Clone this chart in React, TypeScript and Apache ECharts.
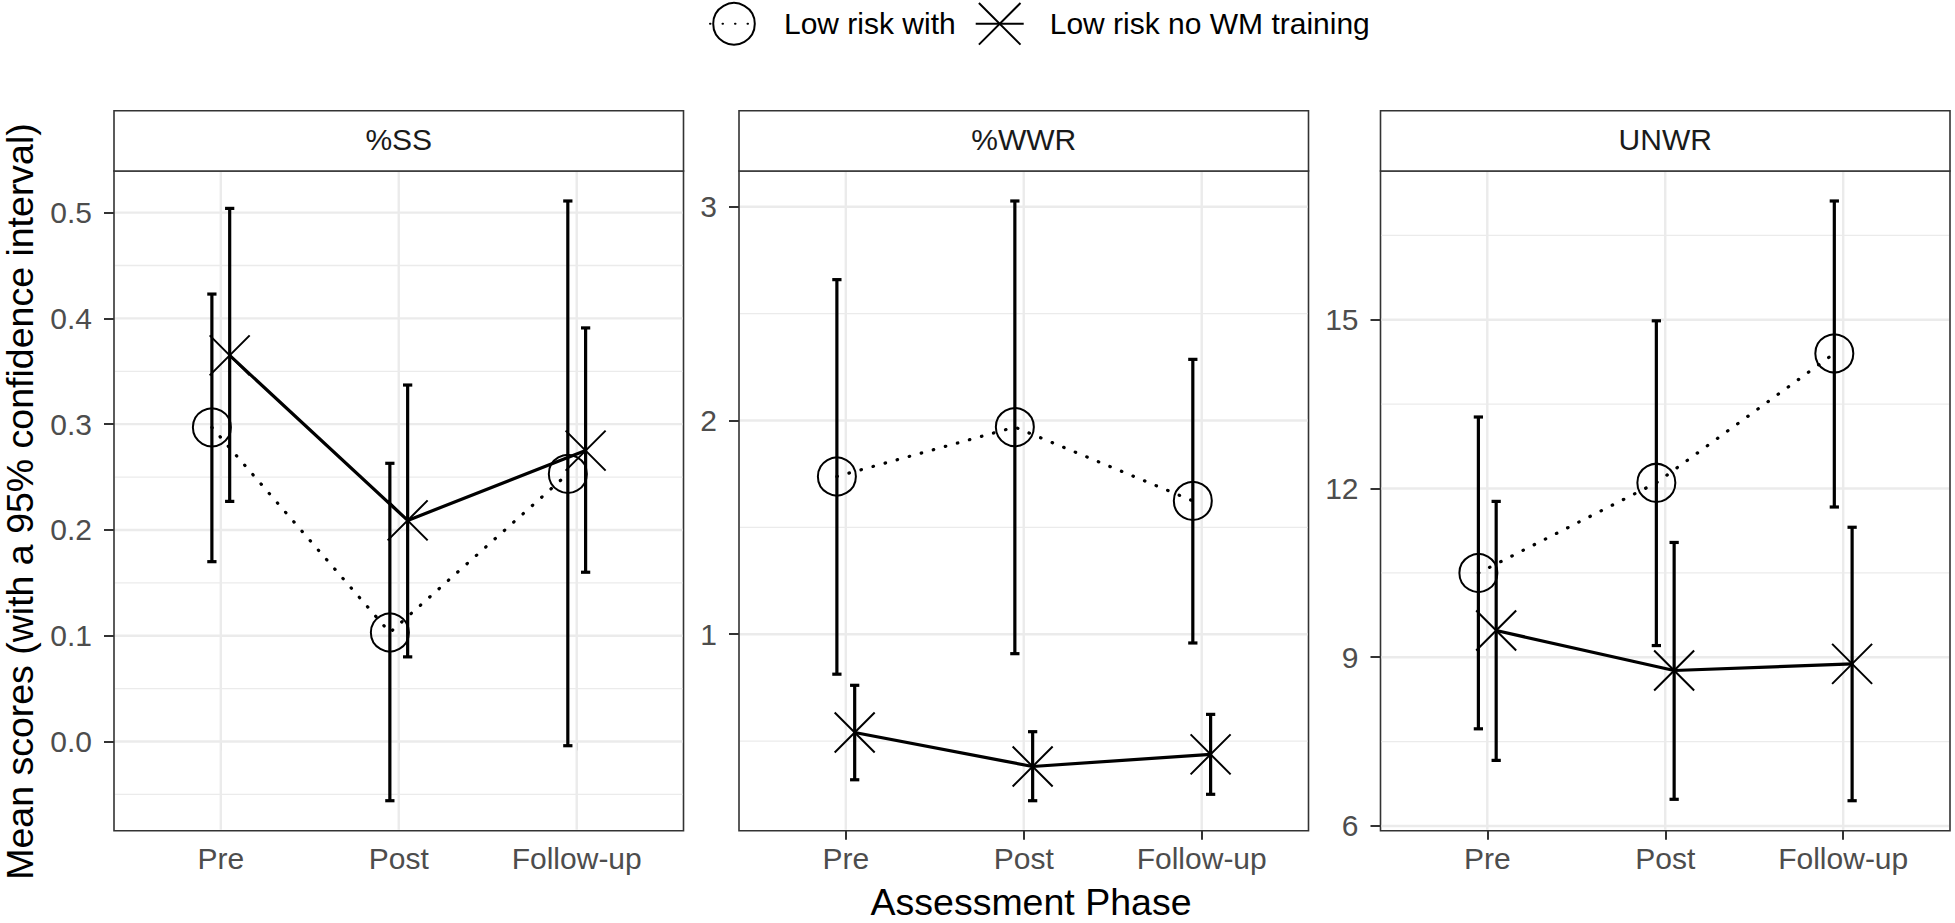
import React, { useEffect, useRef } from 'react';
import * as echarts from 'echarts';

// ---------- data ----------
const phases = ['Pre', 'Post', 'Follow-up'];
const panelTitles = ['%SS', '%WWR', 'UNWR'];
const groupNames = ['Low risk with', 'Low risk no WM training'];

// %SS
const ssWithMean = [0.297, 0.103, 0.253];
const ssWithLo = [0.170, -0.056, -0.004];
const ssWithHi = [0.423, 0.263, 0.511];
const ssNoMean = [0.365, 0.209, 0.275];
const ssNoLo = [0.227, 0.080, 0.160];
const ssNoHi = [0.504, 0.337, 0.391];

// %WWR
const wwrWithMean = [1.738, 1.969, 1.624];
const wwrWithLo = [0.813, 0.909, 0.959];
const wwrWithHi = [2.659, 3.027, 2.286];
const wwrNoMean = [0.540, 0.381, 0.438];
const wwrNoLo = [0.319, 0.221, 0.251];
const wwrNoHi = [0.761, 0.544, 0.625];

// UNWR
const unwrWithMean = [10.497, 12.10, 14.40];
const unwrWithLo = [7.727, 9.207, 11.67];
const unwrWithHi = [13.27, 14.98, 17.11];
const unwrNoMean = [9.474, 8.764, 8.881];
const unwrNoLo = [7.166, 6.474, 6.449];
const unwrNoHi = [11.77, 11.04, 11.31];

// tick labels
const ssTicks = [0, 0.1, 0.2, 0.3, 0.4, 0.5];
const ssMinor = [-0.05, 0.05, 0.15, 0.25, 0.35, 0.45];
const wwrTicks = [1, 2, 3];
const wwrMinor = [0.5, 1.5, 2.5];
const unwrTicks = [6, 9, 12, 15];
const unwrMinor = [7.5, 10.5, 13.5, 16.5];
const xTicks = [1, 2, 3];

// ---------- layout / style ----------
const FONT = '"Liberation Sans", Arial, Helvetica, sans-serif';
const GRID_LEFT = [114, 739, 1380.5];
const GRID_W = 569.5;
const GRID_TOP = 171;
const GRID_H = 659.7;
const STRIP_TOP = 110.7;
const DODGE = 0.05;
const CAP = 0.026;
const X_SYMBOL = 'path://M0,0L10,10M10,0L0,10';

const panels = [
  { title: panelTitles[0], wm: ssWithMean, wl: ssWithLo, wh: ssWithHi, nm: ssNoMean, nl: ssNoLo, nh: ssNoHi, ticks: ssTicks, minor: ssMinor, fmt: (v: number) => v.toFixed(1) },
  { title: panelTitles[1], wm: wwrWithMean, wl: wwrWithLo, wh: wwrWithHi, nm: wwrNoMean, nl: wwrNoLo, nh: wwrNoHi, ticks: wwrTicks, minor: wwrMinor, fmt: (v: number) => String(Math.round(v)) },
  { title: panelTitles[2], wm: unwrWithMean, wl: unwrWithLo, wh: unwrWithHi, nm: unwrNoMean, nl: unwrNoLo, nh: unwrNoHi, ticks: unwrTicks, minor: unwrMinor, fmt: (v: number) => String(Math.round(v)) },
].map((p) => {
  const all = [...p.wl, ...p.wh, ...p.nl, ...p.nh];
  const lo = Math.min(...all);
  const hi = Math.max(...all);
  const pad = (hi - lo) * 0.05;
  return { ...p, min: lo - pad, max: hi + pad };
});

function buildOption() {
  const grid = panels.map((_, i) => ({
    left: GRID_LEFT[i], top: GRID_TOP, width: GRID_W, height: GRID_H,
    show: true, backgroundColor: '#ffffff', borderColor: '#333333', borderWidth: 1.6,
    containLabel: false,
  }));

  const xAxis = panels.map((_, i) => ({
    type: 'value', gridIndex: i, min: 0.4, max: 3.6,
    axisLine: { show: false },
    splitLine: { show: false },
    axisTick: { show: true, length: 9, lineStyle: { color: '#333333', width: 2 }, customValues: xTicks },
    axisLabel: {
      customValues: xTicks,
      formatter: (v: number) => phases[Math.round(v) - 1] ?? '',
      margin: 13, fontSize: 30, color: '#4d4d4d', fontFamily: FONT,
    },
  }));

  const yAxis = panels.map((p, i) => ({
    type: 'value', gridIndex: i, min: p.min, max: p.max,
    axisLine: { show: false },
    splitLine: { show: false },
    axisTick: { show: true, length: 10, lineStyle: { color: '#333333', width: 2 }, customValues: p.ticks },
    axisLabel: {
      customValues: p.ticks,
      formatter: p.fmt,
      margin: 22, fontSize: 30, color: '#4d4d4d', fontFamily: FONT,
    },
  }));

  const series: any[] = [];

  panels.forEach((p, i) => {
    const ymid = (p.min + p.max) / 2;
    const xs = phases.map((_, k) => k + 1);

    // lines with markers (first so the legend uses them)
    series.push({
      type: 'line', name: groupNames[0], xAxisIndex: i, yAxisIndex: i, z: 4,
      silent: true, emphasis: { disabled: true },
      data: xs.map((x, k) => [x - DODGE, p.wm[k]]),
      symbol: 'circle', symbolSize: 38, showSymbol: true,
      itemStyle: { color: 'rgba(0,0,0,0)', borderColor: '#000000', borderWidth: 2 },
      lineStyle: { color: '#000000', width: 3.2, type: [0.5, 12], cap: 'round' },
    });
    series.push({
      type: 'line', name: groupNames[1], xAxisIndex: i, yAxisIndex: i, z: 4,
      silent: true, emphasis: { disabled: true },
      data: xs.map((x, k) => [x + DODGE, p.nm[k]]),
      symbol: X_SYMBOL, symbolSize: 40, showSymbol: true,
      itemStyle: { color: 'rgba(0,0,0,0)', borderColor: '#000000', borderWidth: 2 },
      lineStyle: { color: '#000000', width: 3.2, type: 'solid' },
    });

    // grid lines
    const gridData = [
      ...p.ticks.map((v) => [2, v, 1, 0]),
      ...p.minor.map((v) => [2, v, 0, 0]),
      ...xTicks.map((v) => [v, ymid, 1, 1]),
    ];
    series.push({
      type: 'custom', xAxisIndex: i, yAxisIndex: i, z: 1, silent: true,
      data: gridData,
      renderItem: (params: any, api: any) => {
        const cs = params.coordSys;
        const major = api.value(2);
        const kind = api.value(3);
        const w = major ? 2.4 : 1.3;
        const pt = api.coord([api.value(0), api.value(1)]);
        if (kind === 0) {
          return { type: 'line', shape: { x1: cs.x + 1, y1: pt[1], x2: cs.x + cs.width - 1, y2: pt[1] }, style: { stroke: '#ebebeb', lineWidth: w } };
        }
        return { type: 'line', shape: { x1: pt[0], y1: cs.y + 1, x2: pt[0], y2: cs.y + cs.height - 1 }, style: { stroke: '#ebebeb', lineWidth: w } };
      },
    });

    // error bars
    const eb = (off: number, lo: number[], hi: number[]) => ({
      type: 'custom', xAxisIndex: i, yAxisIndex: i, z: 3, silent: true,
      data: xs.map((x, k) => [x + off, lo[k], hi[k]]),
      encode: { x: 0, y: [1, 2] },
      renderItem: (_params: any, api: any) => {
        const x = api.value(0);
        const top = api.coord([x, api.value(2)]);
        const bot = api.coord([x, api.value(1)]);
        const l = api.coord([x - CAP, api.value(2)])[0];
        const r = api.coord([x + CAP, api.value(2)])[0];
        const st = { stroke: '#000000', lineWidth: 3.2 };
        return {
          type: 'group',
          children: [
            { type: 'line', shape: { x1: top[0], y1: top[1], x2: bot[0], y2: bot[1] }, style: st },
            { type: 'line', shape: { x1: l, y1: top[1], x2: r, y2: top[1] }, style: st },
            { type: 'line', shape: { x1: l, y1: bot[1], x2: r, y2: bot[1] }, style: st },
          ],
        };
      },
    });
    series.push(eb(-DODGE, p.wl, p.wh));
    series.push(eb(DODGE, p.nl, p.nh));
  });

  const graphic: any[] = [];
  panels.forEach((p, i) => {
    graphic.push({
      type: 'rect', z: 10,
      shape: { x: GRID_LEFT[i], y: STRIP_TOP, width: GRID_W, height: GRID_TOP - STRIP_TOP },
      style: { fill: '#ffffff', stroke: '#333333', lineWidth: 1.6 },
    });
    graphic.push({
      type: 'text', z: 11, x: GRID_LEFT[i] + GRID_W / 2, y: 139.5,
      style: { text: p.title, fontSize: 30, fontFamily: FONT, fill: '#1a1a1a', align: 'center', verticalAlign: 'middle', textAlign: 'center', textVerticalAlign: 'middle' },
    });
  });
  graphic.push({
    type: 'text', z: 11, x: 1031, y: 901.5,
    style: { text: 'Assessment Phase', fontSize: 37.5, fontFamily: FONT, fill: '#000000', align: 'center', verticalAlign: 'middle', textAlign: 'center', textVerticalAlign: 'middle' },
  });
  graphic.push({
    type: 'text', z: 11, x: 20, y: 501.5, rotation: Math.PI / 2,
    style: { text: 'Mean scores (with a 95% confidence interval)', fontSize: 37.5, fontFamily: FONT, fill: '#000000', align: 'center', verticalAlign: 'middle', textAlign: 'center', textVerticalAlign: 'middle' },
  });

  return {
    animation: false,
    backgroundColor: '#ffffff',
    textStyle: { fontFamily: FONT },
    legend: {
      data: groupNames, left: 704, top: -3,
      itemWidth: 48, itemHeight: 52, itemGap: 19, selectedMode: false,
      textStyle: { fontSize: 30, color: '#000000', fontFamily: FONT, padding: [0, 0, 0, 21] },
    },
    grid, xAxis, yAxis, series, graphic,
  };
}

export default function App() {
  const ref = useRef<HTMLDivElement>(null);
  useEffect(() => {
    if (!ref.current) return;
    const chart = echarts.init(ref.current, null, { renderer: 'svg' });
    chart.setOption(buildOption() as any);
    return () => chart.dispose();
  }, []);
  return (
    <div
      ref={ref}
      style={{ position: 'absolute', left: 0, top: 0, width: '1955px', height: '923px', background: '#fff' }}
    />
  );
}
